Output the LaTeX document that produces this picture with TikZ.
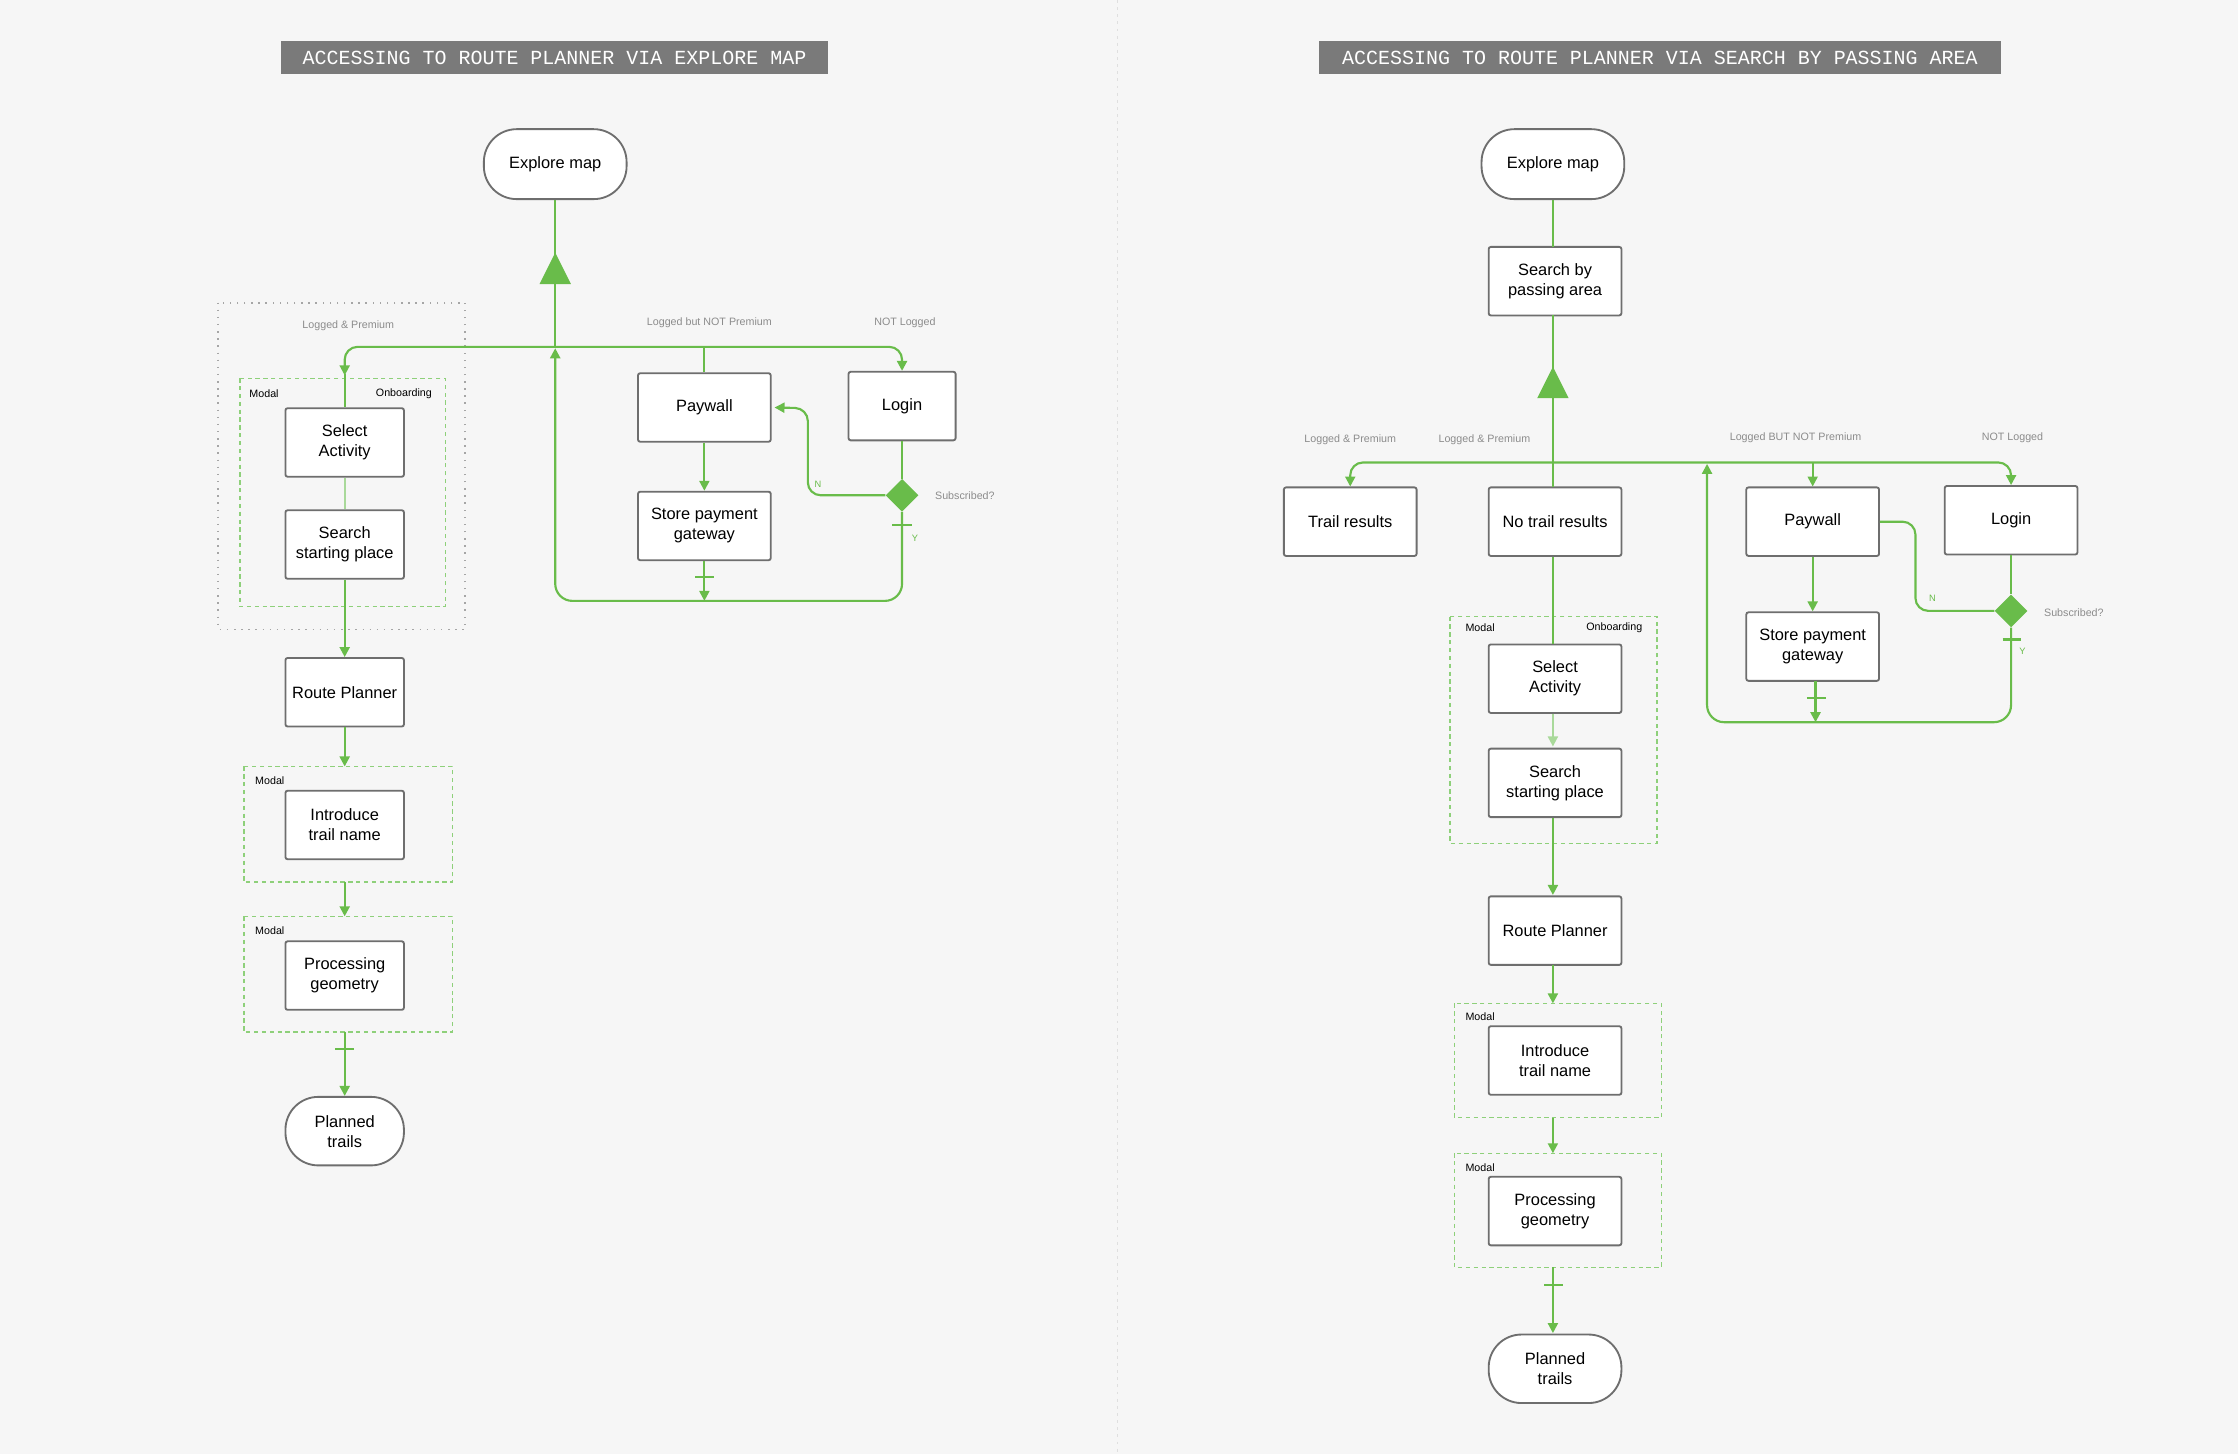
\documentclass[tikz,border=0pt]{standalone}
\usepackage{fontspec}
\setmainfont{Liberation Sans}
\setmonofont{Liberation Mono}
\usetikzlibrary{arrows.meta,shapes.geometric}
\definecolor{bg}{HTML}{F6F6F6}
\definecolor{grn}{HTML}{69BC4A}
\definecolor{lgrn}{HTML}{A9D99A}
\definecolor{dgrn}{HTML}{8ED07A}
\definecolor{bgray}{HTML}{6E6E6E}
\definecolor{tgray}{HTML}{8C8C8C}
\definecolor{title}{HTML}{7A7A7A}
\begin{document}
\begin{tikzpicture}[x=1pt,y=-1pt,
  box/.style={draw=bgray,line width=1.3pt,fill=white,rounded corners=1.5pt,minimum width=83pt,minimum height=48pt,align=center,font=\fontsize{11.5}{14}\selectfont,inner sep=1pt},
  wbox/.style={box,minimum width=93pt},
  stad/.style={box,rounded corners=23pt},
  flow/.style={draw=grn,line width=1.5pt},
  arr/.style={flow,-{Triangle[width=7pt,length=7pt]}},
  lab/.style={text=tgray,font=\fontsize{7.5}{9}\selectfont,inner sep=0pt},
  mlab/.style={text=black,font=\fontsize{7.5}{9}\selectfont,inner sep=0pt},
  grp/.style={draw=dgrn,line width=1pt,dash pattern=on 3pt off 2.5pt},
  dgrp/.style={draw=gray!70,line width=1.3pt,dash pattern=on 1pt off 4pt},
  ttl/.style={fill=title,text=white,font=\ttfamily\fontsize{14}{16}\selectfont,minimum height=23pt,inner xsep=0pt},
  dia/.style={diamond,fill=grn,minimum size=23pt,inner sep=0pt},
  tri/.style={fill=grn},
  tick/.style={flow}]
\fill[bg] (0,0) rectangle (1568,1019);
\useasboundingbox (0,0) rectangle (1568,1019);
\draw[gray!25,line width=1pt,dash pattern=on 2pt off 3pt] (783,0) -- (783,1019);

% ===== LEFT =====
\node[ttl,minimum width=383pt] (t1) at (388.5,40.5) {ACCESSING TO ROUTE PLANNER VIA EXPLORE MAP};
\draw[dgrp] (153,212) rectangle (326,441);
\draw[grp] (168,265) rectangle (312,425);
\draw[grp] (171,537) rectangle (317,618);
\draw[grp] (171,642) rectangle (317,723);
\node[lab] (l1) at (244,228) {Logged \& Premium};
\node[lab] (l2) at (497,226) {Logged but NOT Premium};
\node[lab] (l3) at (634,226) {NOT Logged};
\node[lab] (l4) at (676,347) {Subscribed?};
\node[mlab] (m1) at (185,276) {Modal};
\node[mlab] (m2) at (283,276) {Onboarding};
\node[mlab] (m3) at (189,547) {Modal};
\node[mlab] (m4) at (189,652) {Modal};
\node[stad,minimum width=100pt,minimum height=49pt] (em1) at (389,115) {Explore map};
\node[box] (sa1) at (241.5,310) {Select\\Activity};
\node[box] (ss1) at (241.5,381.5) {Search\\starting place};
\node[box] (rp1) at (241.5,485) {Route Planner};
\node[box] (it1) at (241.5,578) {Introduce\\trail name};
\node[box] (pg1) at (241.5,683.5) {Processing\\geometry};
\node[stad] (pt1) at (241.5,792.5) {Planned\\trails};
\node[wbox] (pw1) at (493.5,285.5) {Paywall};
\node[wbox] (sp1) at (493.5,368.5) {Store payment\\gateway};
\node[box,minimum width=75pt] (lg1) at (632,284.5) {Login};
\node[dia] (d1) at (632,347) {};
\node[text=grn,font=\fontsize{6.5}{8}\selectfont,inner sep=0pt] (n1) at (573,339) {N};
\node[text=grn,font=\fontsize{6.5}{8}\selectfont,inner sep=0pt] (y1) at (641,377) {Y};
\coordinate (bus1) at (389,243);
\coordinate (bot1) at (389,421);
\draw[flow] (em1.south) -- (bus1);
\fill[tri] (389,177) -- (400,199) -- (378,199) -- cycle;
\draw[arr,rounded corners=9pt] (bus1) -| (241.5,263);
\draw[flow] (241.5,262) -- (sa1.north);
\draw[lgrn,line width=1.3pt] (sa1.south) -- (ss1.south |- ss1.north);
\draw[arr] (ss1.south) -- (rp1.north);
\draw[arr] (rp1.south) -- (241.5,537);
\draw[arr] (241.5,618) -- (241.5,642);
\draw[arr] (241.5,723) -- (pt1.north);
\draw[tick] (235,735) -- (248,735);
\draw[arr,rounded corners=9pt] (bus1) -| (lg1.north);
\draw[flow] (pw1.north |- bus1) -- (pw1.north);
\draw[arr] (pw1.south) -- (sp1.north);
\draw[arr] (sp1.south) -- (sp1.south |- bot1);
\draw[tick] (487,404) -- (500,404);
\draw[flow] (lg1.south) -- (d1.north);
\draw[arr,rounded corners=9pt] (d1.west) -| (566,286) -- ([xshift=2pt]pw1.east);
\draw[arr,rounded corners=12pt] (d1.south) -- (632,421) -| (389,244);
\draw[tick] (625,368) -- (639,368);

% ===== RIGHT =====
\node[ttl,minimum width=478pt] (t2) at (1163,40.5) {ACCESSING TO ROUTE PLANNER VIA SEARCH BY PASSING AREA};
\draw[grp] (1016,432) rectangle (1161,591);
\draw[grp] (1019,703) rectangle (1164,783);
\draw[grp] (1019,808) rectangle (1164,888);
\node[lab] (r1) at (946,308) {Logged \& Premium};
\node[lab] (r2) at (1040,308) {Logged \& Premium};
\node[lab] (r3) at (1258,307) {Logged BUT NOT Premium};
\node[lab] (r4) at (1410,307) {NOT Logged};
\node[lab] (r5) at (1453,429) {Subscribed?};
\node[mlab] (rm1) at (1037,440) {Modal};
\node[mlab] (rm2) at (1131,440) {Onboarding};
\node[mlab] (rm3) at (1037,712) {Modal};
\node[mlab] (rm4) at (1037,818) {Modal};
\node[stad,minimum width=100pt,minimum height=49pt] (em2) at (1088,115) {Explore map};
\node[wbox] (sb2) at (1089.5,197) {Search by\\passing area};
\node[wbox] (tr2) at (946,365.5) {Trail results};
\node[wbox] (nt2) at (1089.5,365.5) {No trail results};
\node[wbox] (sa2) at (1089.5,475.5) {Select\\Activity};
\node[wbox] (ss2) at (1089.5,548.5) {Search\\starting place};
\node[wbox] (rp2) at (1089.5,652) {Route Planner};
\node[wbox] (it2) at (1089.5,743) {Introduce\\trail name};
\node[wbox] (pg2) at (1089.5,848.5) {Processing\\geometry};
\node[stad,minimum width=93pt] (pt2) at (1089.5,959) {Planned\\trails};
\node[wbox] (pw2) at (1270,365.5) {Paywall};
\node[wbox] (sp2) at (1270,453) {Store payment\\gateway};
\node[wbox] (lg2) at (1409,364.5) {Login};
\node[dia] (d2) at (1409,428) {};
\node[text=grn,font=\fontsize{6.5}{8}\selectfont,inner sep=0pt] (n2) at (1354,419) {N};
\node[text=grn,font=\fontsize{6.5}{8}\selectfont,inner sep=0pt] (y2) at (1417,456) {Y};
\coordinate (bus2) at (1088,324);
\draw[flow] (em2.south) -- (1088,173);
\draw[flow] (1088,221) -- (bus2);
\fill[tri] (1088,257) -- (1099,279) -- (1077,279) -- cycle;
\draw[arr,rounded corners=9pt] (bus2) -| (tr2.north);
\draw[arr,rounded corners=9pt] (bus2) -| (lg2.north);
\draw[arr] (1270,324) -- (pw2.north);
\draw[flow] (bus2) -- (1088,341);
\draw[flow] (1088,390) -- (1088,451);
\draw[lgrn,line width=1.3pt,-{Triangle[width=7pt,length=7pt]}] (1088,500) -- (1088,523);
\draw[arr] (1088,591) -- (1088,627);
\draw[flow] (1088,573) -- (1088,591);
\draw[arr] (1088,676) -- (1088,703);
\draw[arr] (1088,783) -- (1088,808);
\draw[arr] (1088,888) -- (1088,934);
\draw[tick] (1082,900) -- (1095,900);
\draw[arr] (pw2.south) -- (sp2.north);
\draw[arr] (1272,477) -- (1272,506);
\draw[tick] (1266,489) -- (1279,489);
\draw[flow] (lg2.south) -- (d2.north);
\draw[flow,rounded corners=9pt] (pw2.east) -| (1342,428) -- (d2.west);
\draw[arr,rounded corners=12pt] (d2.south) -- (1409,506) -| (1196,325);
\draw[tick] (1403,448) -- (1416,448);
\end{tikzpicture}
\end{document}
